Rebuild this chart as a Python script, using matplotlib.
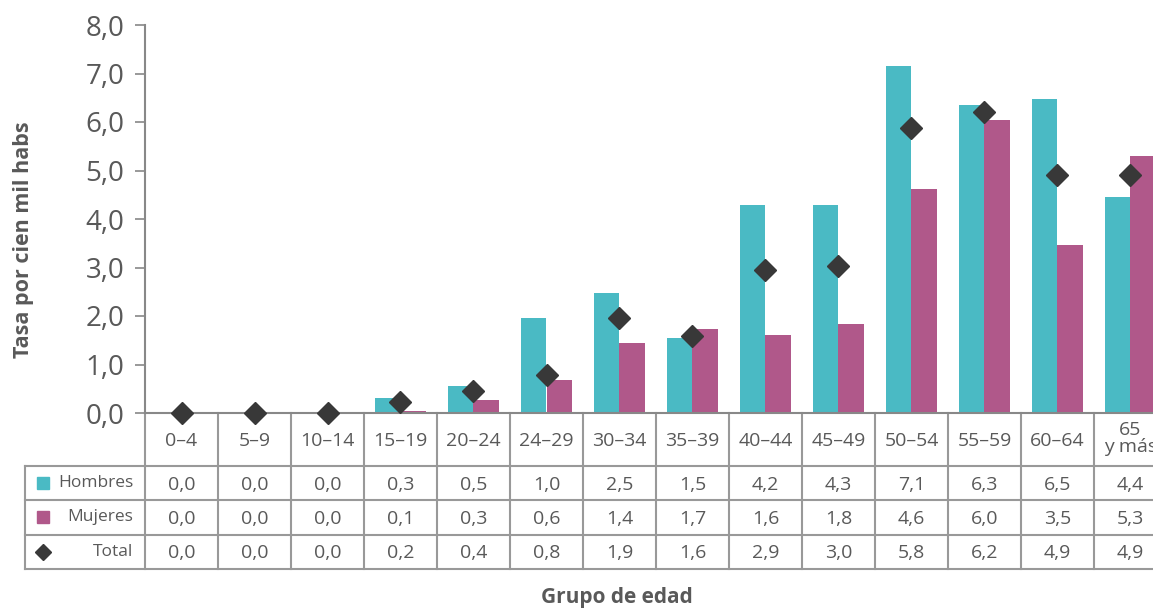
import numpy as np
import matplotlib
matplotlib.use("Agg")
from matplotlib import pyplot as plt
from matplotlib.lines import Line2D

# datos
grupos = ['0–4', '5–9', '10–14', '15–19', '20–24', '24–29', '30–34', '35–39',
          '40–44', '45–49', '50–54', '55–59', '60–64', '65\ny más']
hombres = [0.0, 0.0, 0.0, 0.30, 0.56, 1.96, 2.47, 1.55, 4.29, 4.29, 7.15, 6.35, 6.47, 4.45]
mujeres = [0.0, 0.0, 0.0, 0.04, 0.27, 0.68, 1.44, 1.73, 1.61, 1.84, 4.62, 6.04, 3.46, 5.30]
total = [0.0, 0.0, 0.0, 0.22, 0.45, 0.78, 1.95, 1.59, 2.95, 3.03, 5.88, 6.21, 4.91, 4.91]

tabla_hombres = ['0,0', '0,0', '0,0', '0,3', '0,5', '1,0', '2,5', '1,5', '4,2', '4,3', '7,1', '6,3', '6,5', '4,4']
tabla_mujeres = ['0,0', '0,0', '0,0', '0,1', '0,3', '0,6', '1,4', '1,7', '1,6', '1,8', '4,6', '6,0', '3,5', '5,3']
tabla_total = ['0,0', '0,0', '0,0', '0,2', '0,4', '0,8', '1,9', '1,6', '2,9', '3,0', '5,8', '6,2', '4,9', '4,9']

c_h = '#4abac4'
c_m = '#b0588a'
c_t = '#383838'
gris = '#595959'
linea = '#999999'

plt.rcParams['font.family'] = ['Open Sans', 'DejaVu Sans']

W, Hf = 1153, 610
fig = plt.figure(figsize=(W / 100, Hf / 100), dpi=100)
# el eje se sale un poco por la derecha, como en el original
ax = fig.add_axes([145 / W, (Hf - 413) / Hf, 1022 / W, 388 / Hf])
axh = 388.0
axw = 1022.0

x = np.arange(len(grupos))
bw = 0.356
ax.bar(x - bw / 2, hombres, bw, color=c_h, zorder=2)
ax.bar(x + bw / 2, mujeres, bw, color=c_m, zorder=2)
ax.plot(x, total, 'D', color=c_t, ms=11, ls='none', zorder=3, clip_on=False)

ax.set_xlim(-0.5, len(grupos) - 0.5)
ax.set_ylim(0, 8)
ax.set_yticks(range(9))
ax.set_yticklabels(['%d,0' % v for v in range(9)])
ax.tick_params(axis='y', labelsize=20, labelcolor=gris, color='#888888', length=7, width=1.2, pad=8)
ax.set_xticks([])
for s in ['top', 'right']:
    ax.spines[s].set_visible(False)
for s in ['left', 'bottom']:
    ax.spines[s].set_color('#888888')
    ax.spines[s].set_linewidth(1.5)

ax.set_ylabel('Tasa por cien mil habs', fontsize=15.5, fontweight='bold', color=gris)
ax.yaxis.set_label_coords(-111 / axw, 0.446)

# tabla de datos bajo el eje
hdr = 53 / axh
rh = 34.3 / axh
x0 = -120 / axw
tr = ax.transAxes
kw = dict(transform=tr, clip_on=False, color=linea, lw=1.5)

yb = -hdr - 3 * rh
for k in range(len(grupos) + 1):
    xf = k / len(grupos)
    ax.add_line(Line2D([xf, xf], [0, yb], **kw))
ax.add_line(Line2D([x0, x0], [-hdr, yb], **kw))
for j in range(4):
    yy = -hdr - j * rh
    ax.add_line(Line2D([x0, 1.2], [yy, yy], **kw))

for k, g in enumerate(grupos):
    xc = (k + 0.5) / len(grupos)
    if '\n' in g:
        ax.text(xc, -hdr / 2 + 0.003, g, transform=tr, ha='center', va='center',
                fontsize=14, color=gris, linespacing=0.95)
    else:
        ax.text(xc, -hdr / 2 - 0.003, g, transform=tr, ha='center', va='center',
                fontsize=14, color=gris)

filas = [('Hombres', tabla_hombres, c_h, 's'),
         ('Mujeres', tabla_mujeres, c_m, 's'),
         ('Total', tabla_total, c_t, 'D')]
for j, (nom, vals, col, mk) in enumerate(filas):
    yc = -hdr - (j + 0.5) * rh
    ax.text(-12 / axw, yc, nom, transform=tr, ha='right', va='center', fontsize=12.5, color=gris)
    ax.plot([-102 / axw], [yc], mk, color=col, ms=8 if mk == 's' else 8.5,
            transform=tr, clip_on=False)
    for k, v in enumerate(vals):
        xc = (k + 0.5) / len(grupos)
        ax.text(xc, yc - 0.004, v, transform=tr, ha='center', va='center', fontsize=14, color=gris)

fig.text(617 / W, 1 - 598 / Hf, 'Grupo de edad', ha='center', va='center',
         fontsize=15, fontweight='bold', color=gris)

fig.savefig('out.png', dpi=100)
